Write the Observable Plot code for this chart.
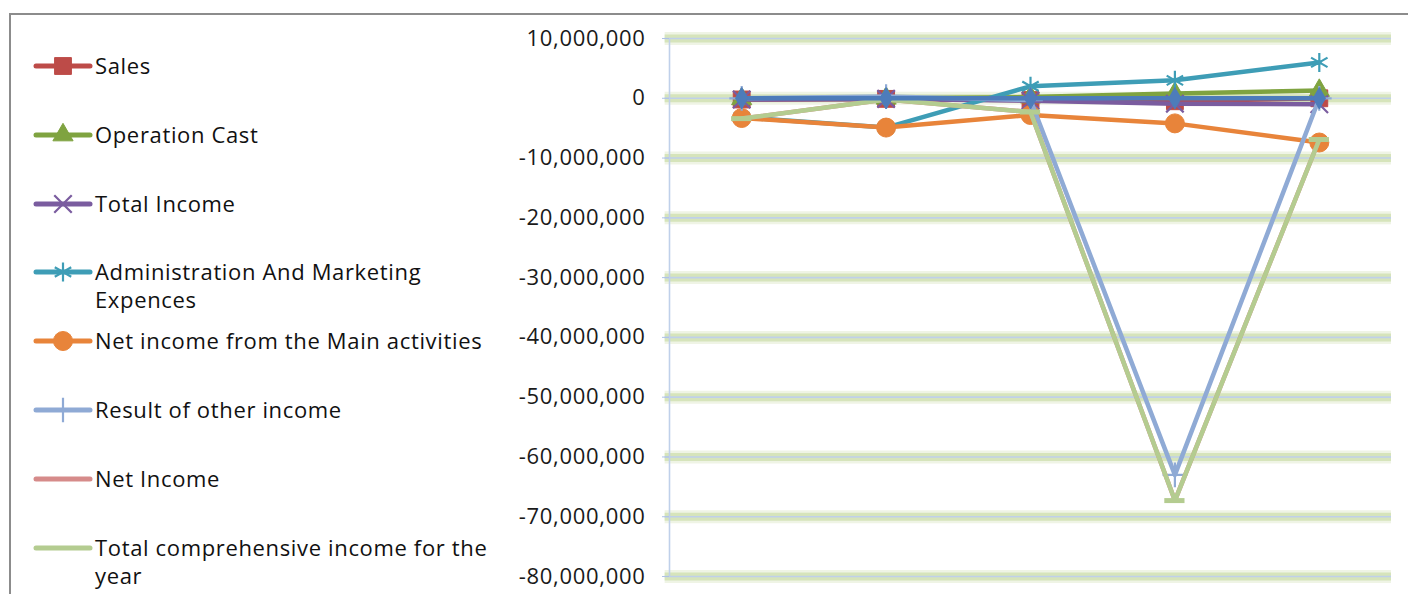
<!DOCTYPE html>
<html>
<head>
<meta charset="utf-8">
<script src="https://cdn.jsdelivr.net/npm/d3@7"></script>
<script src="https://cdn.jsdelivr.net/npm/@observablehq/plot@0.6"></script>
<style>
  html, body { margin: 0; padding: 0; background: #fff; }
  #wrap { position: relative; width: 1408px; height: 594px; overflow: hidden; font-family: "Open Sans", sans-serif; }
  #frame { position: absolute; left: 9px; top: 13px; width: 1500px; height: 700px; border: 2px solid #8c8c8c; box-sizing: border-box; }
  #chart { position: absolute; left: 0; top: 0; }
  #legend { position: absolute; left: 0; top: 0; }
  #chart svg text { letter-spacing: 0.7px; }
</style>
</head>
<body>
<div id="wrap">
  <div id="frame"></div>
  <div id="chart"></div>
  <svg id="legend" width="500" height="594"></svg>
</div>
<script>
// ---- data ----
const categories = ["1", "2", "3", "4", "5"];
const seriesNames = [
  "Sales",
  "Operation Cast",
  "Total Income",
  "Administration And Marketing Expences",
  "Net income from the Main activities",
  "Result of other income",
  "Net Income",
  "Total comprehensive income for the year",
  "Series 9"
];
const sales          = [-200000, -100000, -300000, -500000, 0];
const operationCast  = [-100000, 0, 200000, 800000, 1300000];
const totalIncome    = [-200000, -100000, -400000, -900000, -1000000];
const adminMarketing = [-3200000, -4900000, 2000000, 3000000, 6000000];
const netMainActs    = [-3300000, -4900000, -2800000, -4200000, -7400000];
const otherIncome    = [0, 300000, -300000, -63000000, 0];
const netIncome      = [-3400000, -200000, -2300000, -67300000, -6900000];
const totalCompInc   = [-3400000, -200000, -2300000, -67300000, -6900000];
const series9        = [0, 0, 0, 0, 0];
const yTicks = [10000000, 0, -10000000, -20000000, -30000000, -40000000, -50000000, -60000000, -70000000, -80000000];

const allValues = [sales, operationCast, totalIncome, adminMarketing, netMainActs, otherIncome, netIncome, totalCompInc, series9];
const colors  = ["#bd4b48", "#7fa340", "#7a5c9f", "#3e9db6", "#e8843a", "#8faad5", "#d68b8a", "#b4cc90", "#4d7cba"];
const symbols = ["square", "triangle", "times", "asterisk", "circle", "plus", null, "dash", "diamond"];
const radii   = [9.5, 7.5, 8, 9, 9.5, 8, 0, 0, 6.5];

const rows = allValues.map((vals, s) => vals.map((v, i) => ({series: seriesNames[s], i, cat: categories[i], value: v})));

// ---- marks ----
const marks = [];
const gx1 = () => -0.53, gx2 = () => 4.5;
marks.push(Plot.ruleY(yTicks, {y: d => d, x1: gx1, x2: gx2, stroke: "#dfeacb", strokeWidth: 13, strokeOpacity: 0.5}));
marks.push(Plot.ruleY(yTicks, {y: d => d, x1: gx1, x2: gx2, stroke: "#d0e0b0", strokeWidth: 8, strokeOpacity: 0.8}));
marks.push(Plot.ruleY(yTicks, {y: d => d, x1: gx1, x2: gx2, stroke: "#bfd0ea", strokeWidth: 1.6}));
marks.push(Plot.ruleX([-0.5], {x: d => d, stroke: "#bfd0ea", strokeWidth: 1.6}));
marks.push(Plot.axisY({ticks: yTicks, label: null, tickFormat: d => d.toLocaleString("en-US"), tickSize: 7, tickPadding: 17, stroke: "#aec2e6", fontSize: 22, fill: "#1a1a1a", fillOpacity: 1}));

rows.forEach((data, s) => {
  marks.push(Plot.line(data, {x: "i", y: "value", stroke: colors[s], strokeWidth: 4.5, strokeLinejoin: "round"}));
  const sym = symbols[s];
  if (sym === "dash") {
    marks.push(Plot.ruleY(data, {y: "value", x1: d => d.i - 0.07, x2: d => d.i + 0.07, stroke: colors[s], strokeWidth: 5}));
  } else if (sym) {
    const stroked = ["times", "asterisk", "plus"].includes(sym);
    marks.push(Plot.dot(data, {
      x: "i", y: "value", symbol: sym, r: radii[s],
      fill: stroked ? "none" : colors[s],
      stroke: colors[s], strokeWidth: stroked ? 2.2 : 1
    }));
  }
});

const chart = Plot.plot({
  width: 1408,
  height: 594,
  marginLeft: 669,
  marginRight: 17,
  marginTop: 38,
  marginBottom: 18,
  style: {background: "transparent", fontFamily: "'Open Sans', sans-serif"},
  x: {type: "linear", domain: [-0.5, 4.5], axis: null},
  y: {domain: [-80000000, 10000000], axis: null},
  marks
});
document.getElementById("chart").appendChild(chart);

// ---- legend ----
const legendRows = [
  {s: 0, y: 66, lines: ["Sales"]},
  {s: 1, y: 135, lines: ["Operation Cast"]},
  {s: 2, y: 204, lines: ["Total Income"]},
  {s: 3, y: 272, lines: ["Administration And Marketing", "Expences"]},
  {s: 4, y: 341, lines: ["Net income from the Main activities"]},
  {s: 5, y: 410, lines: ["Result of other income"]},
  {s: 6, y: 479, lines: ["Net Income"]},
  {s: 7, y: 548, lines: ["Total comprehensive income for the", "year"]}
];
const lg = d3.select("#legend");
const symMap = {square: d3.symbolSquare, triangle: d3.symbolTriangle, times: d3.symbolTimes, asterisk: d3.symbolAsterisk, circle: d3.symbolCircle, plus: d3.symbolPlus, diamond: d3.symbolDiamond};
legendRows.forEach(r => {
  const g = lg.append("g");
  g.append("line").attr("x1", 36).attr("x2", 90).attr("y1", r.y).attr("y2", r.y)
    .attr("stroke", colors[r.s]).attr("stroke-width", 5).attr("stroke-linecap", "round");
  const sym = symbols[r.s];
  if (sym && symMap[sym]) {
    const stroked = ["times", "asterisk", "plus"].includes(sym);
    g.append("path").attr("transform", `translate(63,${r.y})`)
      .attr("d", d3.symbol(symMap[sym], Math.PI * radii[r.s] * radii[r.s])())
      .attr("fill", stroked ? "none" : colors[r.s]).attr("stroke", colors[r.s]).attr("stroke-width", stroked ? 2.2 : 1);
  }
  r.lines.forEach((t, k) => {
    g.append("text").attr("x", 95).attr("y", r.y + k * 28).attr("dy", "0.36em")
      .attr("font-family", "'Open Sans', sans-serif").attr("font-size", 22)
      .attr("letter-spacing", "0.65px").attr("fill", "#111").text(t);
  });
});
</script>
</body>
</html>
